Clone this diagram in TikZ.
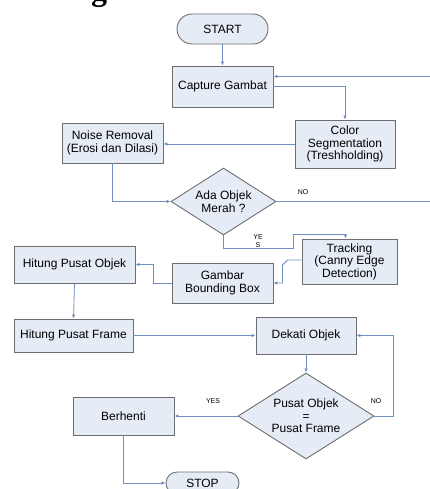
\documentclass[tikz,border=0pt]{standalone}
\usepackage{fontspec}
\setmainfont{Liberation Sans}
\newfontfamily\titlefont{Liberation Serif}
\usetikzlibrary{shapes.geometric,arrows.meta}
\definecolor{boxfill}{HTML}{E6ECF6}
\definecolor{boxline}{HTML}{6E6E6E}
\definecolor{conn}{HTML}{6F8FC0}
\tikzset{
  x=1pt, y=-1pt,
  every node/.style={font=\fontsize{12}{12.5}\selectfont, text=black},
  procbox/.style={draw=boxline, line width=0.9pt, fill=boxfill, rectangle, align=center, inner sep=0pt},
  termbox/.style={draw=boxline, line width=0.9pt, fill=boxfill, rectangle, rounded corners=11pt, align=center, inner sep=0pt},
  decbox/.style={draw=boxline, line width=0.9pt, fill=boxfill, diamond, align=center, inner sep=0pt, aspect=1.57},
  arr/.style={draw=conn, line width=0.8pt, -{Latex[length=4pt,width=3.5pt]}},
  lbl/.style={font=\fontsize{7}{7.5}\selectfont, align=center}
}
\begin{document}
\begin{tikzpicture}
\useasboundingbox (0,0) rectangle (430,489);
% partial title glyph (cut off by the top edge, as in the reference)
\node[font=\titlefont\bfseries\fontsize{32}{32}\selectfont, anchor=base, inner sep=0pt] (ttl) at (99,1) {g};
% nodes
\node[termbox, minimum width=91pt, minimum height=30pt, rounded corners=15pt] (start) at (222.5,29) {START};
\node[procbox, minimum width=101pt, minimum height=41pt] (cap) at (222.5,86.5) {Capture Gambat};
\node[procbox, minimum width=100pt, minimum height=48pt] (cs) at (345,144) {Color\\Segmentation\\(Treshholding)};
\node[procbox, minimum width=101pt, minimum height=40pt] (nr) at (112.5,143) {Noise Removal\\(Erosi dan Dilasi)};
\node[decbox, minimum width=105pt, minimum height=67pt] (ada) at (223.5,201.5) {Ada Objek\\Merah ?};
\node[procbox, minimum width=95pt, minimum height=45pt] (trk) at (349.5,261.5) {Tracking\\(Canny Edge\\Detection)};
\node[procbox, minimum width=101pt, minimum height=40pt] (gbb) at (222.5,283) {Gambar\\Bounding Box};
\node[procbox, minimum width=121pt, minimum height=37pt] (hpo) at (74.5,264.5) {Hitung Pusat Objek};
\node[procbox, minimum width=119pt, minimum height=33pt] (hpf) at (73.5,335.5) {Hitung Pusat Frame};
\node[procbox, minimum width=100pt, minimum height=37pt] (dek) at (306,335.5) {Dekati Objek};
\node[decbox, minimum width=136pt, minimum height=86pt] (pd) at (306,416) {Pusat Objek\\=\\Pusat Frame};
\node[procbox, minimum width=101pt, minimum height=38pt] (ber) at (123.5,416) {Berhenti};
\node[termbox, minimum width=73pt, minimum height=22pt] (stop) at (202.5,483) {STOP};
% connectors
\draw[arr] (start.south) -- (cap.north);
\draw[arr] (cap.east) -| (cs.north);
\draw[arr] (cs.west) -- (cs.west -| nr.east);
\draw[arr] (nr.south) |- (ada.west);
\draw[arr] (ada.east) -- ++(158,0) |- ([yshift=10pt]cap.east);
\draw[arr] (ada.south) -- ++(0,13) -- ++(70,0) -- ++(0,-14) -| ([xshift=-4pt]trk.north);
\draw[arr] ([yshift=1.5pt]trk.west) -- ++(-14,0) -- ++(-5,5) |- (gbb.east);
\draw[arr] (gbb.west) -- ++(-18,0) |- (hpo.east);
\draw[arr] (hpo.south) -- (hpf.north);
\draw[arr] (hpf.east) -- (dek.west);
\draw[arr] (dek.south) -- (pd.north);
\draw[arr] (pd.east) -- ++(19,0) |- (dek.east);
\draw[arr] (pd.west) -- (ber.east);
\draw[arr] (ber.south) |- (stop.west);
% labels
\node[lbl] (lno1) at (303,192) {NO};
\node[lbl] (lyes1) at (258,241) {YE\\S};
\node[lbl] (lyes2) at (213,401) {YES};
\node[lbl] (lno2) at (376,401) {NO};
\end{tikzpicture}
\end{document}
